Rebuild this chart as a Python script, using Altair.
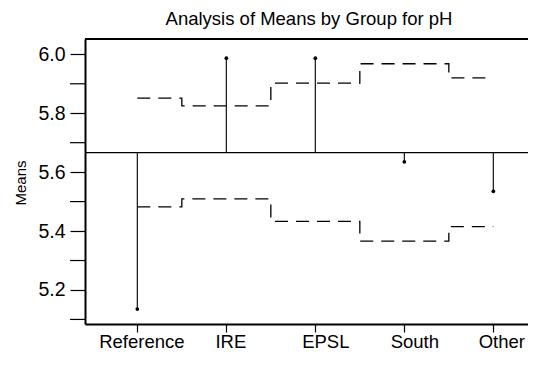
import altair as alt
import pandas as pd

groups = ["Reference", "IRE", "EPSL", "South", "Other"]
means = [5.135, 5.987, 5.987, 5.635, 5.535]
upper = [5.851, 5.825, 5.902, 5.968, 5.920]
lower = [5.482, 5.509, 5.433, 5.366, 5.415]
center = 5.666
y_major = [5.2, 5.4, 5.6, 5.8, 6.0]
y_minor = [5.1, 5.3, 5.5, 5.7, 5.9]
title_text = "Analysis of Means by Group for pH"

FONT = "Liberation Sans"
W, H = 443, 285
y_dom = [5.0845, 6.052]
x_dom = [-0.588, -0.588 + W / 89.0]

idx = list(range(len(groups)))
df_means = pd.DataFrame({"i": idx, "g": groups, "mean": means, "c": [center] * len(groups)})
df_lim = pd.DataFrame({
    "i": idx + idx,
    "v": upper + lower,
    "lim": ["upper"] * len(groups) + ["lower"] * len(groups),
})
df_minor = pd.DataFrame({"t": y_minor})

label_expr = "[" + ",".join(f"'{g}'" for g in groups) + "][round(datum.value)]"

xs = alt.Scale(domain=x_dom, nice=False, zero=False)
ys = alt.Scale(domain=y_dom, nice=False, zero=False)

x_axis = alt.Axis(values=idx, labelExpr=label_expr, title=None, grid=False,
                  tickSize=8, labelPadding=0, labelFontSize=18.5, labelFont=FONT,
                  labelColor="black", tickColor="black", domainColor="black",
                  domainWidth=2, tickWidth=1.2, labelFlush=False, labelOverlap=False,
                  labelOffset={"condition": [{"test": "datum.value == 4", "value": 8},
                                             {"test": "datum.value >= 2", "value": 10}],
                               "value": 4})
y_axis = alt.Axis(values=y_major, format=".1f", title="Means", grid=False,
                  tickSize=15, labelPadding=5, labelFontSize=19.5, labelFont=FONT,
                  labelColor="black", tickColor="black", domainColor="black",
                  domainWidth=2, tickWidth=1.2, titleFont=FONT, titleFontSize=15,
                  titleFontWeight="normal", titleColor="black", titleX=-60, titleY=143.5,
                  titleAngle=-90, titleBaseline="alphabetic", titleAlign="center",
                  labelFlush=False, labelOverlap=False)

base_axes = alt.Chart(df_means).mark_point(opacity=0).encode(
    x=alt.X("i:Q", scale=xs, axis=x_axis),
    y=alt.Y("mean:Q", scale=ys, axis=y_axis),
)

minor_ticks = alt.Chart(df_minor).mark_rule(color="black", strokeWidth=1.2).encode(
    x=alt.value(-15), x2=alt.value(0), y=alt.Y("t:Q", scale=ys)
)

top_border = alt.Chart(df_means).mark_rule(color="black", strokeWidth=2).encode(
    x=alt.value(0), x2=alt.value(W), y=alt.value(0)
)

title_mark = alt.Chart(pd.DataFrame({"t": [title_text]})).mark_text(
    font=FONT, fontSize=18.5, color="black", align="center", baseline="alphabetic"
).encode(x=alt.value(224), y=alt.value(-14), text="t:N")

center_line = alt.Chart(pd.DataFrame({"c": [center]})).mark_rule(color="black", strokeWidth=1.2).encode(
    x=alt.value(0), x2=alt.value(W), y=alt.Y("c:Q", scale=ys)
)

stems = alt.Chart(df_means).mark_rule(color="#111", strokeWidth=1.2).encode(
    x=alt.X("i:Q", scale=xs), y=alt.Y("c:Q", scale=ys), y2="mean:Q"
)

dots = alt.Chart(df_means).mark_point(filled=True, color="black", size=14, opacity=1).encode(
    x=alt.X("i:Q", scale=xs), y=alt.Y("mean:Q", scale=ys)
)

limits = alt.Chart(df_lim).mark_line(interpolate="step", color="black", strokeWidth=1.3,
                                       strokeDash=[13, 8]).encode(
    x=alt.X("i:Q", scale=xs), y=alt.Y("v:Q", scale=ys), detail="lim:N"
)

chart = alt.layer(base_axes, minor_ticks, limits, center_line, stems, dots, top_border,
                  title_mark).properties(
    width=W, height=H,
    autosize=alt.AutoSizeParams(type="none"),
    padding={"left": 77, "top": 31, "right": 0, "bottom": 30},
).configure_view(stroke=None).configure(background="white")

chart.save("out.html", embed_options={"renderer": "svg", "actions": False})
